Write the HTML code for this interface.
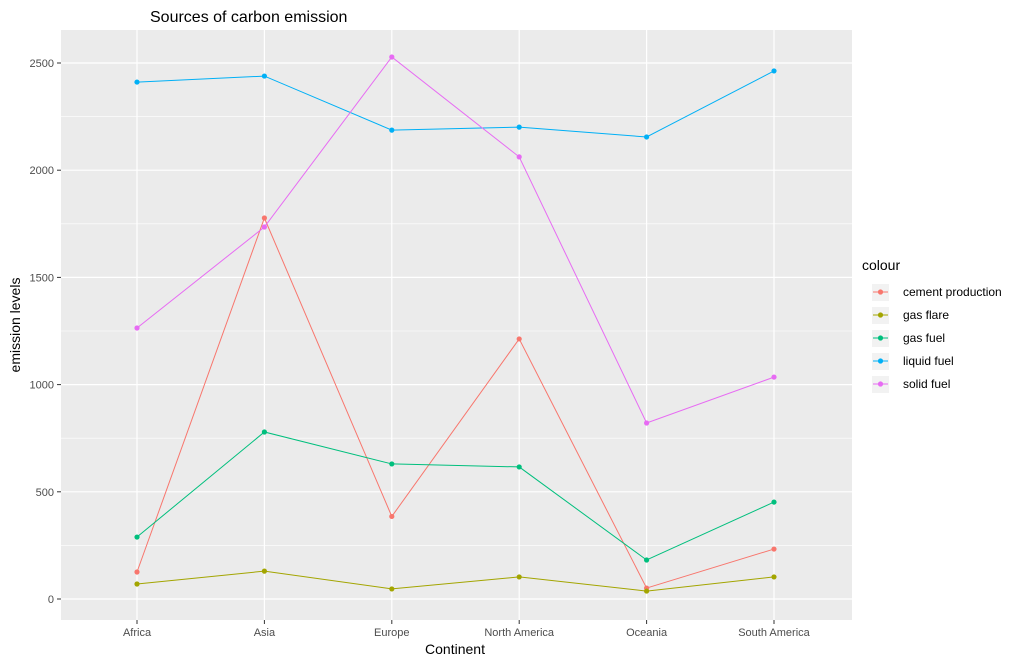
<!DOCTYPE html>
<html><head><meta charset="utf-8"><style>
body{margin:0;background:#fff;font-family:"Liberation Sans",Arial,sans-serif;}
svg text{font-family:"Liberation Sans",Arial,sans-serif;}
</style></head><body>
<svg id="chart" width="1020" height="664" xmlns="http://www.w3.org/2000/svg">
<rect x="0" y="0" width="1020" height="664" fill="#fff"/>
<text x="150" y="22" font-size="16" fill="#000">Sources of carbon emission</text>
<rect x="61" y="30" width="791" height="590" fill="#ebebeb"/>
<g id="grid"></g>
<g id="series"></g>
<g id="axes"></g>
<text x="455" y="654" font-size="14" text-anchor="middle" fill="#000">Continent</text>
<text transform="translate(20,325) rotate(-90)" font-size="14" text-anchor="middle" fill="#000">emission levels</text>
<g id="legend">
<text x="862" y="270" font-size="14" fill="#000">colour</text>
</g>
</svg>
<script>
const categories=["Africa","Asia","Europe","North America","Oceania","South America"];
const seriesNames=["cement production","gas flare","gas fuel","liquid fuel","solid fuel"];
const cement=[126,1777,385,1213,51,233];
const gasFlare=[70,130,47,103,37,103];
const gasFuel=[289,779,630,616,182,452];
const liquidFuel=[2411,2439,2187,2201,2155,2463];
const solidFuel=[1264,1735,2528,2062,821,1035];
const yTicks=[0,500,1000,1500,2000,2500];
const colors=["#F8766D","#A3A500","#00BF7D","#00B0F6","#E76BF3"];
const NS="http://www.w3.org/2000/svg";
function xS(i){return 137+i*127.4;}
function yS(v){return 599-v*0.2144;}
function mk(t,a,p){const e=document.createElementNS(NS,t);for(const k in a)e.setAttribute(k,a[k]);p.appendChild(e);return e;}
const grid=document.getElementById('grid'),axes=document.getElementById('axes'),ser=document.getElementById('series'),leg=document.getElementById('legend');
for(let v=-250;v<=2750;v+=500){const y=yS(v);if(y<30||y>620)continue;
 const l=mk('line',{x1:61,x2:852,y1:y,y2:y,stroke:'#fff','stroke-width':0.6},grid);
 }
yTicks.forEach(v=>{const y=yS(v);
 const l=mk('line',{x1:61,x2:852,y1:y,y2:y,stroke:'#fff','stroke-width':1.2},grid);
 
 const t=mk('line',{x1:57,x2:61,y1:y,y2:y,stroke:'#333'},axes);
 
 const tx=mk('text',{x:54,y:y+4,'font-size':11,'text-anchor':'end',fill:'#4d4d4d'},axes);tx.textContent=v;
 });
categories.forEach((c,i)=>{const x=xS(i);
 const l=mk('line',{x1:x,x2:x,y1:30,y2:620,stroke:'#fff','stroke-width':1.2},grid);
 
 const t=mk('line',{x1:x,x2:x,y1:620,y2:624,stroke:'#333'},axes);
 
 const tx=mk('text',{x:x,y:636,'font-size':11,'text-anchor':'middle',fill:'#4d4d4d'},axes);tx.textContent=c;
 });
const data=[cement,gasFlare,gasFuel,liquidFuel,solidFuel];
data.forEach((arr,s)=>{
 const pl=mk('polyline',{points:arr.map((v,i)=>xS(i)+','+yS(v)).join(' '),fill:'none',stroke:colors[s],'stroke-width':1},ser);
 
 arr.forEach((v,i)=>{const c=mk('circle',{cx:xS(i),cy:yS(v),r:2.6,fill:colors[s]},ser);
  });
 const y=292+s*23;
 const bg=mk('rect',{x:872,y:y-8,width:17,height:17,fill:'#f2f2f2'},leg);
 
 const ll=mk('line',{x1:873,x2:888,y1:y,y2:y,stroke:colors[s]},leg);
 
 const lc=mk('circle',{cx:880.5,cy:y,r:2.6,fill:colors[s]},leg);
 
 const lt=mk('text',{x:903,y:y+4,'font-size':12,fill:'#000'},leg);lt.textContent=seriesNames[s];
 
});
</script>
</body></html>
